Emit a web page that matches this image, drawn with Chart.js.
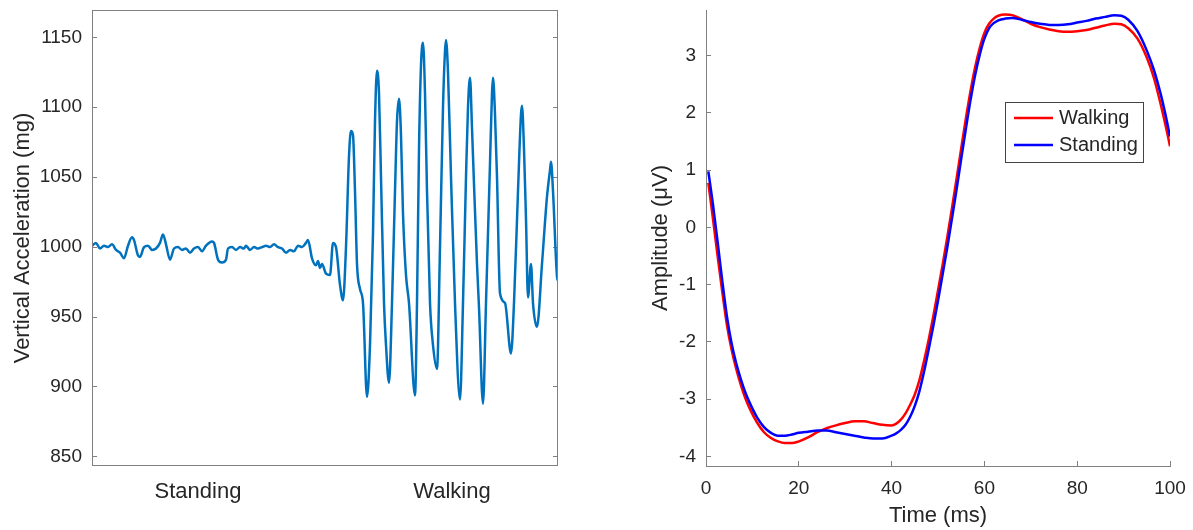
<!DOCTYPE html>
<html lang="en">
<head>
  <meta charset="UTF-8" />
  <title>Vertical acceleration and amplitude</title>
  <script src="https://cdn.jsdelivr.net/npm/chart.js"></script>
  <style>
    body { margin: 0; background: #fff; }
    #accelChart { position: absolute; left: 0; top: 0; }
    #ampChart { position: absolute; left: 620px; top: 0; }
  </style>
</head>
<body>
  <canvas id="accelChart" width="580" height="530"></canvas>
  <canvas id="ampChart" width="573" height="530"></canvas>
  <script>
    // Accelerometer trace: sample index and vertical acceleration (mg)
    const accelSamples = [0, 2, 4, 6, 8, 10, 12, 14, 16, 18, 20, 21, 23, 24, 26, 28, 30, 32, 34, 35.5, 37, 39, 41, 43, 45, 47, 49, 51, 53, 55, 57, 60, 61, 63, 65, 67, 68, 70, 72, 74, 76, 77, 79, 81, 83, 85, 87, 89, 91, 93, 95, 97, 99, 101, 103, 105, 107, 108, 110, 112, 113, 114, 115, 117, 119, 120.5, 122,
      124, 125.5, 127, 128.5, 129.5, 130.5, 131.5, 132.5, 134, 135.5, 137.5, 139, 140.5, 141.5, 142.5, 143.5, 144.5, 146, 147, 148.5,
      150, 151.5, 152.5, 153.5, 154.5, 155.5, 157, 158.5, 161.5, 162.5, 163.5, 164.5, 165.5, 166.5, 167.5, 169, 170.5, 172.5,
      174, 175.5, 176.5, 177, 178, 179.5, 181.5, 184, 185.5, 187, 188, 189, 190, 191, 192.5, 193.5, 195.5,
      197, 199, 200, 200.5, 201.5, 202.5, 204, 206.5, 209.5, 211, 213, 214.5, 215, 216, 217, 218, 219.5, 220.5, 222.5,
      225, 227.5, 229, 229.5, 230.5, 232.5, 233];
    const accelValues = [1001, 1003, 999, 1001, 1000, 1002, 998, 996, 992, 1001, 1007, 1005, 994, 993, 1000, 1001, 998, 999, 1003, 1009, 1002, 991, 999, 1000, 998, 999, 996, 999, 1000, 997, 1001, 1004, 1003, 991, 989, 991, 999, 1000, 998, 1000, 999, 1001, 998, 1000, 999, 1000, 1001, 1000, 1002, 1000, 999, 996, 998, 997, 1001, 1000, 1003, 1005, 992, 987, 990, 985, 988, 981, 980, 1003, 1000,
      973, 962, 1000, 1065, 1083, 1080, 1040, 988, 970, 960, 893, 930, 1010, 1090, 1126, 1110, 1050, 960, 930, 903,
      960, 1040, 1090, 1106, 1080, 1024, 980, 960, 894, 960, 1070, 1130, 1146, 1110, 1040, 960, 930, 913,
      1000, 1100, 1140, 1148, 1125, 1050, 960, 891, 960, 1050, 1100, 1121, 1085, 1045, 988, 957, 888,
      960, 1060, 1110, 1121, 1095, 1050, 967, 960, 924, 960, 1040, 1095, 1101, 1070, 1020, 964, 988, 960, 943,
      988, 1036, 1055, 1061, 1040, 979, 976];
    const activityLabels = ['Standing', 'Walking'];
    const activityAt = [53, 180];
    const accelMin = 843.5, accelMax = 1169.5;

    // Averaged response over time (ms), amplitude in µV
    const timeMs = [0.5, 1.5, 2.5, 3.5, 4.5, 5.5, 6.5, 7.5, 8.5, 9.5, 11, 12.5, 14, 15.5, 17, 18.5, 20, 22, 24, 26, 28, 30, 32, 34, 36, 38, 40, 41, 42, 43, 44, 45, 46, 47, 48, 49, 50, 51, 52, 53, 54, 55, 56, 57, 58, 59, 60, 61, 62, 63, 64.5, 66, 68, 70, 72, 74, 76, 78, 80, 82, 84, 86, 88, 89.5, 91, 93, 95, 96.5, 98, 99, 100];
    const walkingAmp = [0.78, 0.15, -0.50, -1.12, -1.70, -2.13, -2.47, -2.75, -2.99, -3.18, -3.41, -3.58, -3.68, -3.74, -3.77, -3.77, -3.74, -3.67, -3.58, -3.51, -3.46, -3.42, -3.39, -3.39, -3.42, -3.45, -3.46, -3.43, -3.36, -3.25, -3.10, -2.92, -2.67, -2.33, -1.96, -1.55, -1.10, -0.65, -0.17, 0.33, 0.85, 1.38, 1.90, 2.38, 2.80, 3.14, 3.40, 3.56, 3.65, 3.70, 3.72, 3.71, 3.64, 3.56, 3.50, 3.46, 3.43, 3.42, 3.43, 3.45, 3.49, 3.53, 3.56, 3.55, 3.48, 3.30, 2.97, 2.62, 2.15, 1.80, 1.42];
    const standingAmp = [0.98, 0.40, -0.25, -0.93, -1.55, -2.02, -2.37, -2.65, -2.89, -3.08, -3.32, -3.49, -3.59, -3.64, -3.64, -3.62, -3.59, -3.57, -3.55, -3.55, -3.58, -3.61, -3.64, -3.67, -3.69, -3.69, -3.64, -3.60, -3.54, -3.45, -3.31, -3.12, -2.86, -2.52, -2.13, -1.72, -1.28, -0.82, -0.35, 0.15, 0.66, 1.20, 1.72, 2.22, 2.66, 3.02, 3.30, 3.48, 3.57, 3.62, 3.65, 3.66, 3.63, 3.59, 3.56, 3.54, 3.54, 3.55, 3.58, 3.61, 3.65, 3.68, 3.71, 3.70, 3.63, 3.43, 3.09, 2.76, 2.33, 1.98, 1.59];
    const ampMin = -4.17, ampMax = 3.80;

    const textColor = '#262626';
    const axisColor = '#808080';
    Chart.defaults.font.family = "'Liberation Sans', Arial, Helvetica, sans-serif";
    Chart.defaults.color = textColor;

    const toPoints = (xs, ys) => xs.map((x, i) => ({ x: x, y: ys[i] }));
    const plain = v => String(v);

    // fixed axis sizes so the plot areas land where they should
    const fixWidth = w => s => { s.width = w; s.paddingTop = 0; s.paddingBottom = 0; };
    const fixHeight = h => s => { s.height = h; s.paddingLeft = 0; s.paddingRight = 0; };

    // box around the plot area of the left axes
    const frame = {
      id: 'frame',
      afterDraw(chart) {
        const { ctx, chartArea: a } = chart;
        ctx.save();
        ctx.strokeStyle = axisColor;
        ctx.lineWidth = 1;
        ctx.strokeRect(Math.round(a.left) + 0.5, Math.round(a.top) + 0.5,
          Math.round(a.width) - 1, Math.round(a.height) - 1);
        ctx.restore();
      }
    };

    // legend drawn inside the plot area, MATLAB style
    const boxLegend = {
      id: 'boxLegend',
      afterDraw(chart) {
        const { ctx, chartArea: a } = chart;
        const x = a.right - 165, y = a.top + 92, w = 138, h = 60;
        ctx.save();
        ctx.fillStyle = '#fff';
        ctx.fillRect(x, y, w, h);
        ctx.strokeStyle = '#444';
        ctx.lineWidth = 1;
        ctx.strokeRect(x + 0.5, y + 0.5, w, h);
        ctx.font = "20px 'Liberation Sans', Arial, sans-serif";
        ctx.textBaseline = 'middle';
        chart.data.datasets.forEach((ds, i) => {
          const ly = y + 16 + i * 27;
          ctx.strokeStyle = ds.borderColor;
          ctx.lineWidth = 2.5;
          ctx.beginPath();
          ctx.moveTo(x + 9, ly);
          ctx.lineTo(x + 48, ly);
          ctx.stroke();
          ctx.fillStyle = textColor;
          ctx.fillText(ds.label, x + 54, ly);
        });
        ctx.restore();
      }
    };

    const inwardTicks = { drawOnChartArea: false, drawTicks: true, tickLength: -5, color: axisColor };

    new Chart(document.getElementById('accelChart'), {
      type: 'line',
      data: {
        datasets: [{
          label: 'Vertical Acceleration',
          data: toPoints(accelSamples, accelValues),
          borderColor: '#0072bd',
          borderWidth: 2.5,
          pointRadius: 0,
          cubicInterpolationMode: 'monotone'
        }]
      },
      options: {
        responsive: false,
        animation: false,
        events: [],
        layout: { padding: { top: 10, right: 22, bottom: 0, left: 0 } },
        plugins: { legend: { display: false }, tooltip: { enabled: false } },
        scales: {
          x: {
            type: 'linear',
            min: 0,
            max: 233,
            grid: { display: false },
            border: { display: false },
            afterBuildTicks: s => { s.ticks = activityAt.map(v => ({ value: v })); },
            ticks: {
              autoSkip: false,
              maxRotation: 0,
              padding: 5,
              font: { size: 22 },
              callback: (v, i) => activityLabels[i]
            },
            afterFit: fixHeight(64)
          },
          y: {
            min: accelMin,
            max: accelMax,
            grid: inwardTicks,
            border: { display: false },
            ticks: { stepSize: 50, includeBounds: false, padding: 15, font: { size: 19 }, callback: plain },
            title: { display: true, text: 'Vertical Acceleration (mg)', font: { size: 22 }, padding: { top: 10 } },
            afterFit: fixWidth(92)
          },
          y2: {
            position: 'right',
            min: accelMin,
            max: accelMax,
            grid: inwardTicks,
            border: { display: false },
            ticks: { stepSize: 50, includeBounds: false, display: false },
            afterFit: fixWidth(0)
          }
        }
      },
      plugins: [frame]
    });

    new Chart(document.getElementById('ampChart'), {
      type: 'line',
      data: {
        datasets: [{
          label: 'Walking',
          data: toPoints(timeMs, walkingAmp),
          borderColor: '#ff0000',
          borderWidth: 2.5,
          pointRadius: 0,
          cubicInterpolationMode: 'monotone',
          order: 1
        }, {
          label: 'Standing',
          data: toPoints(timeMs, standingAmp),
          borderColor: '#0000ff',
          borderWidth: 2.5,
          pointRadius: 0,
          cubicInterpolationMode: 'monotone',
          order: 0
        }]
      },
      options: {
        responsive: false,
        animation: false,
        events: [],
        layout: { padding: { top: 10, right: 23, bottom: 0, left: 0 } },
        plugins: { legend: { display: false }, tooltip: { enabled: false } },
        scales: {
          x: {
            type: 'linear',
            min: 0,
            max: 100,
            grid: inwardTicks,
            border: { display: true, color: axisColor, width: 1 },
            ticks: { stepSize: 20, padding: 16, maxRotation: 0, font: { size: 19 }, callback: plain },
            title: { display: true, text: 'Time (ms)', font: { size: 22 }, padding: { bottom: 1 } },
            afterFit: fixHeight(64)
          },
          y: {
            min: ampMin,
            max: ampMax,
            grid: inwardTicks,
            border: { display: true, color: axisColor, width: 1 },
            ticks: { stepSize: 1, includeBounds: false, padding: 15, font: { size: 19 }, callback: plain },
            title: { display: true, text: 'Amplitude (μV)', font: { size: 22 }, padding: { top: 28 } },
            afterFit: fixWidth(86)
          }
        }
      },
      plugins: [boxLegend]
    });
  </script>
</body>
</html>
